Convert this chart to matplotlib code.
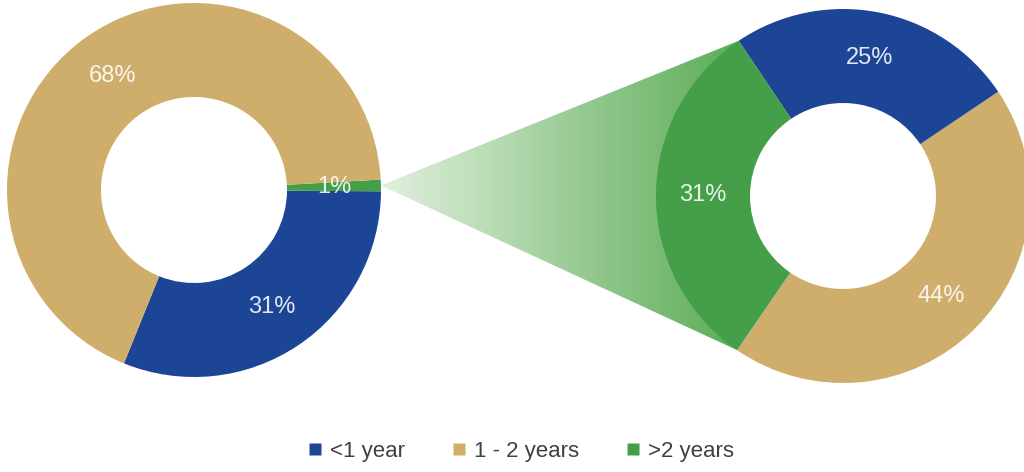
import numpy as np
import matplotlib.pyplot as plt
from matplotlib.patches import Polygon
from matplotlib.lines import Line2D

plt.rcParams['font.family'] = ['Liberation Sans', 'DejaVu Sans']

# Categories and shares for the two donuts
categories = ['<1 year', '1 - 2 years', '>2 years']
colors = {'<1 year': '#1d4595', '1 - 2 years': '#cfae6c', '>2 years': '#449f48'}

left_order = ['<1 year', '>2 years', '1 - 2 years']
left_values = [31, 1, 68]

right_order = ['1 - 2 years', '<1 year', '>2 years']
right_values = [44, 25, 31]

W, H = 1024, 472
fig = plt.figure(figsize=(W / 100, H / 100), dpi=100)
ax = fig.add_axes([0, 0, 1, 1])

R = 187
ring = 94
left_c = (194, H - 190)
right_c = (843, H - 196)
left_start = -112.0
right_start = -124.5


def donut(center, values, order, start):
    wedges, _, texts = ax.pie(
        values, colors=[colors[k] for k in order], center=center, radius=R,
        startangle=start, counterclock=True, pctdistance=0.75,
        autopct=lambda p: f'{p:.0f}%',
        wedgeprops=dict(width=ring, linewidth=0, edgecolor='none'),
        textprops=dict(color='white', alpha=0.88, fontsize=17))
    for w in wedges:
        w.set_zorder(3)
    for t in texts:
        t.set_zorder(4)
    return wedges


lw = donut(left_c, left_values, left_order, left_start)
rw = donut(right_c, right_values, right_order, right_start)

# Connector cone from the small left slice to the matching right segment
g_left = lw[left_order.index('>2 years')]
g_right = rw[right_order.index('>2 years')]
mid = np.deg2rad((g_left.theta1 + g_left.theta2) / 2)
apex = (left_c[0] + R * np.cos(mid), left_c[1] + R * np.sin(mid))
t1, t2 = np.deg2rad(g_right.theta1), np.deg2rad(g_right.theta2)
p_top = (right_c[0] + R * np.cos(t1), right_c[1] + R * np.sin(t1))
p_bot = (right_c[0] + R * np.cos(t2), right_c[1] + R * np.sin(t2))

cone = Polygon([apex, p_top, p_bot], closed=True, facecolor='none',
               edgecolor='none')
ax.add_patch(cone)

x0, x1 = apex[0], max(p_top[0], p_bot[0])
y0, y1 = min(p_top[1], p_bot[1]), max(p_top[1], p_bot[1])
c_start = np.array([226, 240, 222]) / 255
c_end = np.array([92, 172, 88]) / 255
t = np.linspace(0, 1, 256)
grad = c_start[None, :] + (c_end - c_start)[None, :] * t[:, None]
img = np.tile(grad[None, :, :], (2, 1, 1))
im = ax.imshow(img, extent=[x0, x1, y0, y1], origin='lower', aspect='auto',
               zorder=1, interpolation='bilinear')
im.set_clip_path(cone)

ax.set_xlim(0, W)
ax.set_ylim(0, H)
ax.set_aspect('equal')
ax.axis('off')

handles = [Line2D([], [], marker='s', linestyle='none', markersize=9,
                  markerfacecolor=colors[k], markeredgecolor='none')
           for k in categories]
fig.legend(handles, categories, loc='center', bbox_to_anchor=(0.508, 0.043),
           ncol=3, frameon=False, fontsize=16, handlelength=0.8,
           handletextpad=0.3, columnspacing=2.0, labelcolor='#404040')

fig.savefig('out.png', dpi=100, facecolor='white')
